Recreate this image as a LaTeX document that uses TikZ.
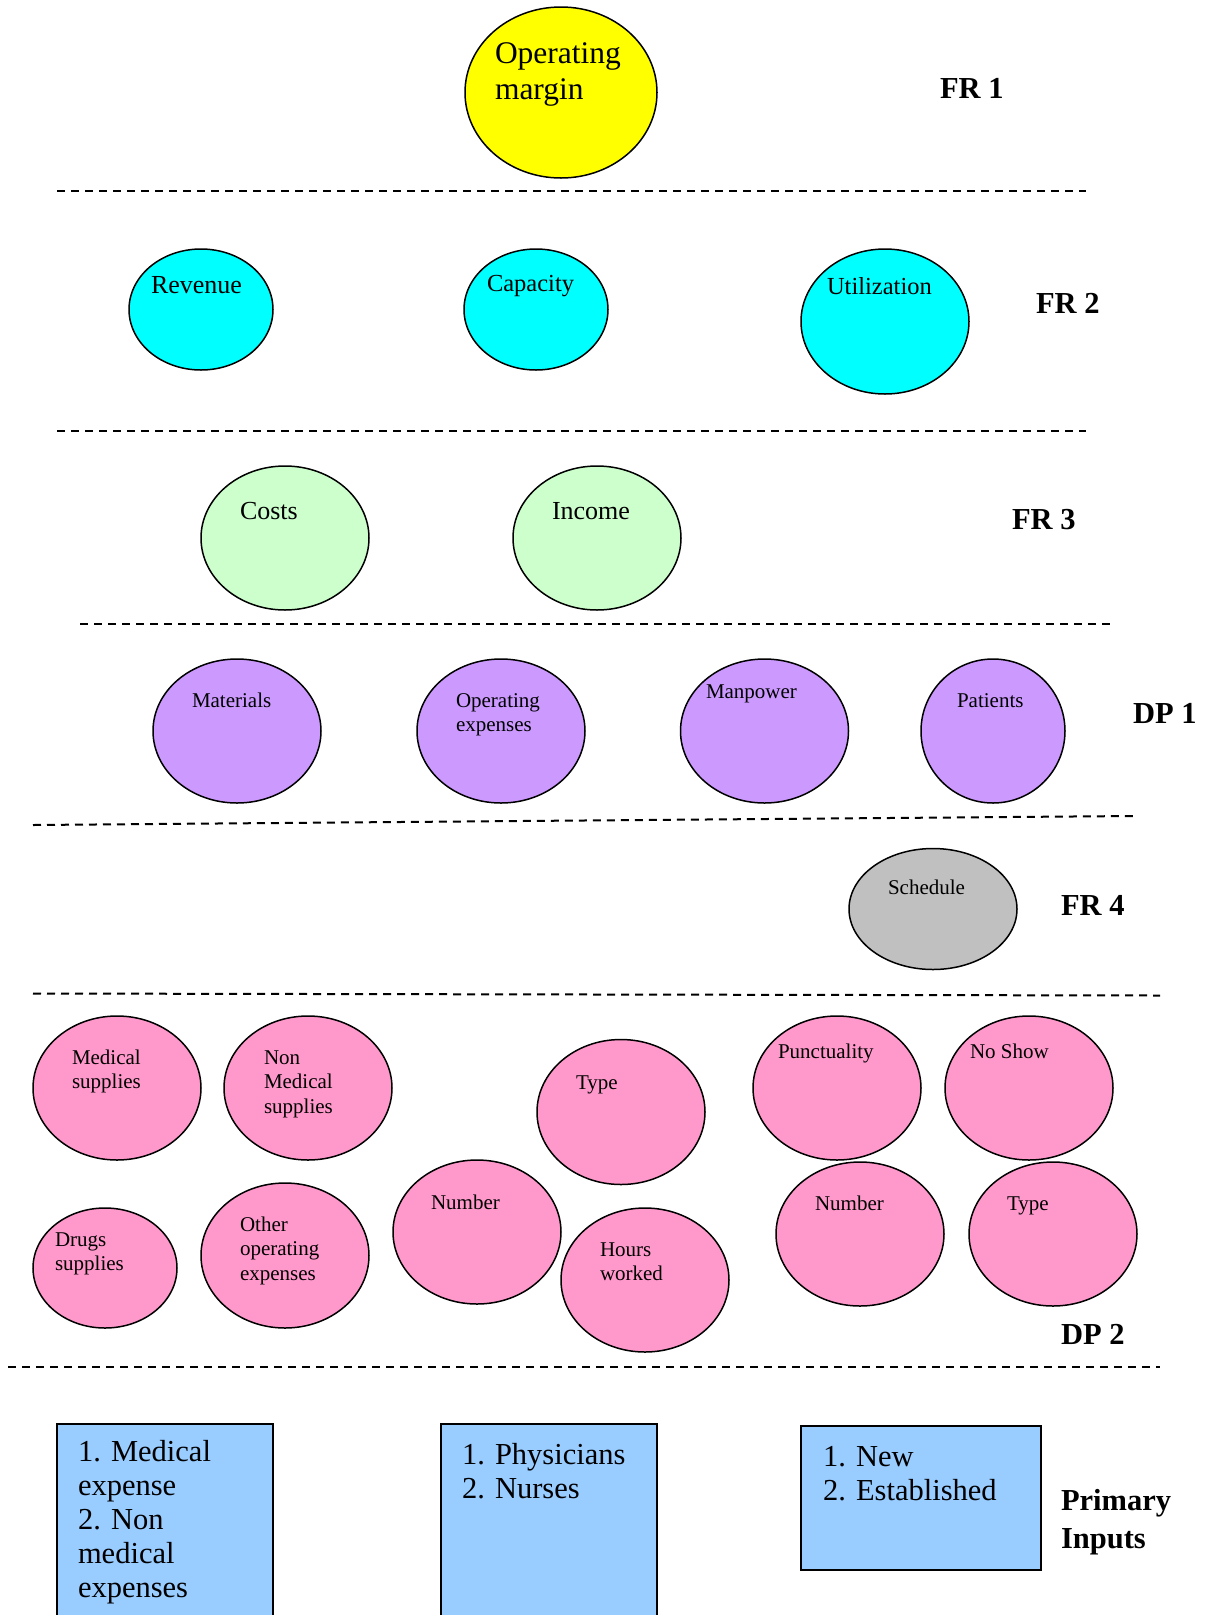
\documentclass[tikz,border=0pt]{standalone}
\usepackage{fontspec}
\setmainfont{Liberation Serif}
\usetikzlibrary{shapes.geometric}

\definecolor{cYellow}{HTML}{FFFF00}
\definecolor{cCyan}{HTML}{00FFFF}
\definecolor{cGreen}{HTML}{CCFFCC}
\definecolor{cPurple}{HTML}{CC99FF}
\definecolor{cGray}{HTML}{C0C0C0}
\definecolor{cPink}{HTML}{FF99CC}
\definecolor{cBlue}{HTML}{99CCFF}

\tikzset{
  bubble/.style={ellipse, draw=black, line width=1.5pt, inner sep=0pt},
  lbl/.style={anchor=base west, inner sep=0pt, outer sep=0pt},
  big/.style={lbl, font=\fontsize{31.5}{36.5}\selectfont},
  mid/.style={lbl, font=\fontsize{24.5}{28}\selectfont},
  midb/.style={lbl, font=\fontsize{26}{30}\selectfont},
  small/.style={lbl, font=\fontsize{21}{24.8}\selectfont},
  level/.style={lbl, font=\fontsize{30.5}{38}\selectfont\bfseries},
  boxtxt/.style={lbl, font=\fontsize{30.5}{34.2}\selectfont},
  sep/.style={draw=black, line width=2pt, dash pattern=on 8pt off 6pt},
  inbox/.style={draw=black, line width=2pt, fill=cBlue}
}

\newcommand\ml[1]{\vtop{#1}}

\begin{document}
\begin{tikzpicture}[x=1pt,y=-1pt]
\useasboundingbox (0,0) rectangle (1212,1615);
\clip (0,0) rectangle (1212,1615);

% ---------- FR 1 ----------
\node[bubble, fill=cYellow, minimum width=192pt, minimum height=171pt] (om) at (561,92.5) {};
\node[big] (omt) at (495,63) {\ml{\hbox{Operating}\hbox{margin}}};
\node[level] (fr1) at (940,98) {FR 1};
\draw[sep] (57,191) -- (1086,191);

% ---------- FR 2 ----------
\node[bubble, fill=cCyan, minimum width=144pt, minimum height=121pt] (rev) at (201,309.5) {};
\node[midb] (revt) at (151,293) {Revenue};
\node[bubble, fill=cCyan, minimum width=144pt, minimum height=121pt] (cap) at (536,309.5) {};
\node[mid] (capt) at (487,291) {Capacity};
\node[bubble, fill=cCyan, minimum width=168pt, minimum height=145pt] (util) at (885,321.5) {};
\node[mid] (utilt) at (827,294) {Utilization};
\node[level] (fr2) at (1036,313) {FR 2};
\draw[sep] (57,431) -- (1086,431);

% ---------- FR 3 ----------
\node[bubble, fill=cGreen, minimum width=168pt, minimum height=144pt] (costs) at (285,538) {};
\node[midb] (costst) at (240,519) {Costs};
\node[bubble, fill=cGreen, minimum width=168pt, minimum height=144pt] (inc) at (597,538) {};
\node[midb] (inct) at (552,519) {Income};
\node[level] (fr3) at (1012,529.5) {FR 3};
\draw[sep] (80,624) -- (1110,624);

% ---------- DP 1 ----------
\node[bubble, fill=cPurple, minimum width=168pt, minimum height=144pt] (mat) at (237,731) {};
\node[small] (matt) at (192,707) {Materials};
\node[bubble, fill=cPurple, minimum width=168pt, minimum height=144pt] (opex) at (501,731) {};
\node[small] (opext) at (456,707) {\ml{\hbox{Operating}\hbox{expenses}}};
\node[bubble, fill=cPurple, minimum width=168pt, minimum height=144pt] (manp) at (764.5,731) {};
\node[small] (manpt) at (706,698) {Manpower};
\node[bubble, fill=cPurple, minimum width=144pt, minimum height=144pt] (pat) at (993,731) {};
\node[small] (patt) at (957,707) {Patients};
\node[level] (dp1) at (1133,723) {DP 1};
\draw[sep] (33,825) -- (1133,816);

% ---------- FR 4 ----------
\node[bubble, fill=cGray, minimum width=168pt, minimum height=121pt] (sched) at (933,909) {};
\node[small] (schedt) at (888,894.5) {Schedule};
\node[level] (fr4) at (1061,915) {FR 4};
\draw[sep] (33,993.5) -- (1160,995.5);

% ---------- DP 2 ----------
\node[bubble, fill=cPink, minimum width=168pt, minimum height=144pt] (medsup) at (117,1088) {};
\node[small] (medsupt) at (72,1064) {\ml{\hbox{Medical}\hbox{supplies}}};
\node[bubble, fill=cPink, minimum width=168pt, minimum height=144pt] (nonmed) at (308,1088) {};
\node[small] (nonmedt) at (264,1064) {\ml{\hbox{Non}\hbox{Medical}\hbox{supplies}}};
\node[bubble, fill=cPink, minimum width=168pt, minimum height=145pt] (typea) at (621,1112) {};
\node[small] (typeat) at (576,1089) {Type};
\node[bubble, fill=cPink, minimum width=168pt, minimum height=144pt] (punct) at (837,1088) {};
\node[small] (punctt) at (778,1058) {Punctuality};
\node[bubble, fill=cPink, minimum width=168pt, minimum height=144pt] (noshow) at (1029,1088) {};
\node[small] (noshowt) at (970,1058) {No Show};

\node[bubble, fill=cPink, minimum width=144pt, minimum height=120pt] (drugs) at (105,1268) {};
\node[small] (drugst) at (55,1246) {\ml{\hbox{Drugs}\hbox{supplies}}};
\node[bubble, fill=cPink, minimum width=168pt, minimum height=145pt] (other) at (285,1255.5) {};
\node[small] (othert) at (240,1231) {\ml{\hbox{Other}\hbox{operating}\hbox{expenses}}};
\node[bubble, fill=cPink, minimum width=168pt, minimum height=144pt] (numa) at (477,1232) {};
\node[small] (numat) at (431,1209) {Number};
\node[bubble, fill=cPink, minimum width=168pt, minimum height=144pt] (hours) at (645,1280) {};
\node[small] (hourst) at (600,1256) {\ml{\hbox{Hours}\hbox{worked}}};
\node[bubble, fill=cPink, minimum width=168pt, minimum height=144pt] (numb) at (860,1234) {};
\node[small] (numbt) at (815,1210.5) {Number};
\node[bubble, fill=cPink, minimum width=168pt, minimum height=144pt] (typeb) at (1053,1234) {};
\node[small] (typebt) at (1007,1210.5) {Type};
\node[level] (dp2) at (1061,1344) {DP 2};
\draw[sep] (8,1367) -- (1160,1367);

% ---------- Primary inputs ----------
\draw[inbox] (57,1640) -- (57,1424) -- (273,1424) -- (273,1640);
\node[boxtxt] (b1t) at (78,1461) {\ml{\hbox{1. Medical}\hbox{expense}\hbox{2. Non}\hbox{medical}\hbox{expenses}}};
\draw[inbox] (441,1640) -- (441,1424) -- (657,1424) -- (657,1640);
\node[boxtxt] (b2t) at (462,1464) {\ml{\hbox{1. Physicians}\hbox{2. Nurses}}};
\node[inbox, rectangle, inner sep=0pt, minimum width=240pt, minimum height=144pt] (b3) at (921,1498) {};
\node[boxtxt] (b3t) at (823,1466) {\ml{\hbox{1. New}\hbox{2. Established}}};
\node[level] (prim) at (1061,1510) {\ml{\hbox{Primary}\hbox{Inputs}}};
\end{tikzpicture}
\end{document}
